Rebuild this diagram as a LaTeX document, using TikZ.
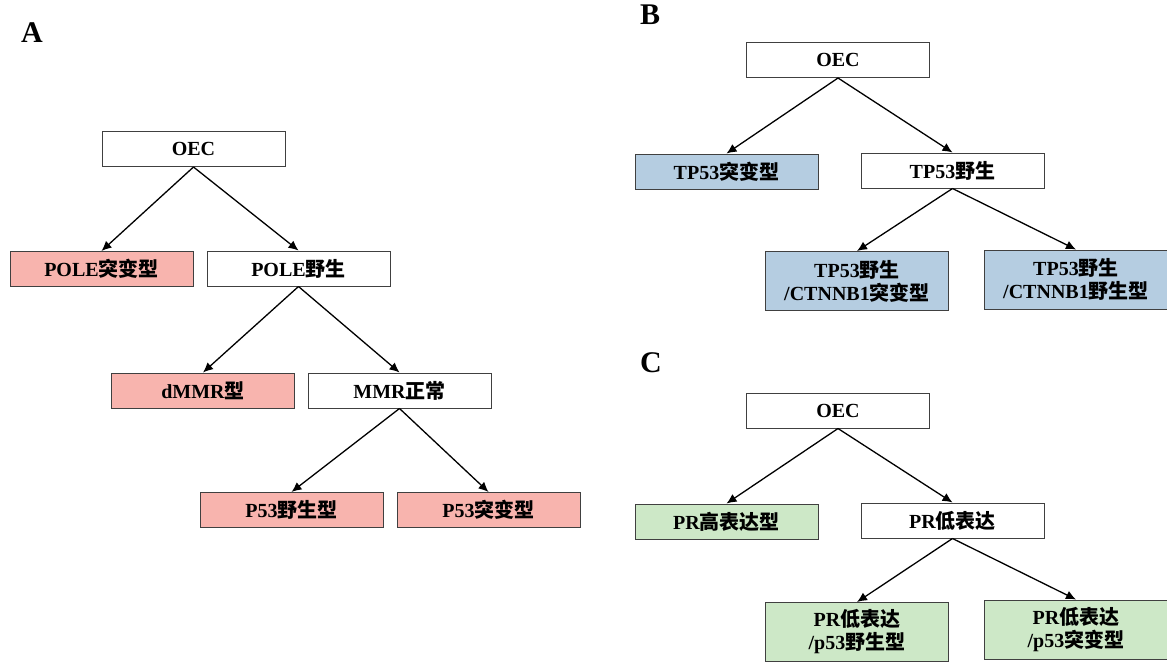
\documentclass[tikz,border=0pt]{standalone}
\usepackage{fontspec}
\setmainfont{Liberation Serif}
\newfontfamily\cjk{Noto Sans CJK SC}
\newcommand{\zh}[1]{{\cjk #1}}
\usetikzlibrary{arrows.meta}
\definecolor{pinkfill}{RGB}{248,180,174}
\definecolor{bluefill}{RGB}{181,205,225}
\definecolor{greenfill}{RGB}{205,232,199}
\definecolor{boxline}{RGB}{64,64,64}
\begin{document}
\begin{tikzpicture}[x=1pt, y=-1pt, line width=1.3pt, >={Latex[length=10pt,width=9pt]},
  main node/.style={rectangle, draw=boxline, line width=1pt, minimum width=183pt, minimum height=35pt, inner sep=0pt, align=center, font=\fontsize{20}{23}\selectfont\bfseries},
  tall node/.style={main node, minimum height=59pt},
  panel/.style={font=\fontsize{30}{36}\selectfont\bfseries, inner sep=0pt}]
\useasboundingbox (0,0) rectangle (1167,662);
% panel A
\node [panel](la) at (32,33) {A};
\node [main node](a0) at (193.5,149) {OEC};
\node [main node, fill=pinkfill](a1) at (101.5,269) {POLE\zh{突变型}};
\node [main node](a2) at (298.5,268.5) {POLE\zh{野生}};
\node [main node, fill=pinkfill](a3) at (203,390.5) {dMMR\zh{型}};
\node [main node](a4) at (399.5,390.5) {MMR\zh{正常}};
\node [main node, fill=pinkfill](a5) at (291.5,510) {P53\zh{野生型}};
\node [main node, fill=pinkfill](a6) at (488.5,510) {P53\zh{突变型}};
\draw [->] (a0.south) -- (a1.north);
\draw [->] (a0.south) -- (a2.north);
\draw [->] (a2.south) -- (a3.north);
\draw [->] (a2.south) -- (a4.north);
\draw [->] (a4.south) -- (a5.north);
\draw [->] (a4.south) -- (a6.north);
% panel B
\node [panel](lb) at (650,15) {B};
\node [main node](b0) at (838,60) {OEC};
\node [main node, fill=bluefill](b1) at (726.5,171.5) {TP53\zh{突变型}};
\node [main node](b2) at (952.5,170.5) {TP53\zh{野生}};
\node [tall node, fill=bluefill](b3) at (857,281) {TP53\zh{野生}\\/CTNNB1\zh{突变型}};
\node [tall node, fill=bluefill](b4) at (1076,279.5) {TP53\zh{野生}\\/CTNNB1\zh{野生型}};
\draw [->] (b0.south) -- (b1.north);
\draw [->] (b0.south) -- (b2.north);
\draw [->] (b2.south) -- (b3.north);
\draw [->] (b2.south) -- (b4.north);
% panel C
\node [panel](lc) at (651,363) {C};
\node [main node](c0) at (838,410.5) {OEC};
\node [main node, fill=greenfill](c1) at (726.5,521.5) {PR\zh{高表达型}};
\node [main node](c2) at (952.5,520.5) {PR\zh{低表达}};
\node [tall node, fill=greenfill](c3) at (857,632) {PR\zh{低表达}\\/p53\zh{野生型}};
\node [tall node, fill=greenfill](c4) at (1076,629.5) {PR\zh{低表达}\\/p53\zh{突变型}};
\draw [->] (c0.south) -- (c1.north);
\draw [->] (c0.south) -- (c2.north);
\draw [->] (c2.south) -- (c3.north);
\draw [->] (c2.south) -- (c4.north);
\end{tikzpicture}
\end{document}
